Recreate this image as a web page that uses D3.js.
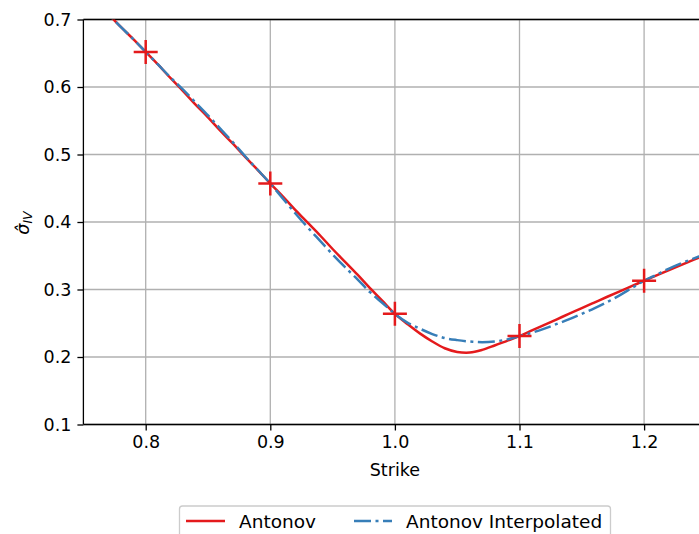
<!DOCTYPE html>
<html>
<head>
<meta charset="utf-8">
<script src="https://cdn.jsdelivr.net/npm/d3@7"></script>
<style>
  html, body { margin: 0; padding: 0; background: #fff; }
  svg { display: block; font-family: "DejaVu Sans", sans-serif; }
</style>
</head>
<body>
<svg id="chart" width="699" height="534"></svg>
<script>
// Strike grid for the smile curves
const strikes = [0.76, 0.77, 0.78, 0.79, 0.80, 0.81, 0.82, 0.83, 0.84, 0.85, 0.86, 0.87, 0.88, 0.89, 0.90,
  0.91, 0.92, 0.93, 0.94, 0.95, 0.96, 0.97, 0.98, 0.99, 1.00, 1.01, 1.02, 1.03, 1.04, 1.05, 1.06, 1.07,
  1.08, 1.09, 1.10, 1.11, 1.12, 1.13, 1.14, 1.15, 1.16, 1.17, 1.18, 1.19, 1.20, 1.21, 1.22, 1.23, 1.24, 1.25];

// Antonov implied volatility
const antonovVol = [0.727, 0.708, 0.689, 0.671, 0.652, 0.633, 0.613, 0.594, 0.574, 0.555, 0.535, 0.516, 0.496, 0.477, 0.457,
  0.438, 0.418, 0.399, 0.380, 0.360, 0.341, 0.322, 0.302, 0.283, 0.264, 0.249, 0.235, 0.223, 0.213, 0.2075, 0.2065, 0.2105,
  0.217, 0.224, 0.231, 0.2393, 0.2476, 0.2559, 0.2642, 0.2725, 0.2807, 0.2889, 0.2970, 0.3050, 0.3130, 0.3210, 0.3288, 0.3365, 0.3442, 0.3518];

// Antonov interpolated implied volatility
const interpVol = [0.727, 0.708, 0.689, 0.671, 0.652, 0.633, 0.614, 0.596, 0.577, 0.558, 0.538, 0.518, 0.497, 0.477, 0.457,
  0.435, 0.413, 0.392, 0.372, 0.352, 0.333, 0.315, 0.296, 0.280, 0.264, 0.251, 0.242, 0.234, 0.228, 0.225, 0.223, 0.222,
  0.223, 0.226, 0.231, 0.236, 0.242, 0.249, 0.256, 0.264, 0.272, 0.281, 0.291, 0.302, 0.313, 0.322, 0.331, 0.339, 0.346, 0.353];

// Quoted market points
const quoteStrikes = [0.8, 0.9, 1.0, 1.1, 1.2];
const quoteVols = [0.652, 0.457, 0.264, 0.231, 0.313];

// Axis ticks
const xTicks = [0.8, 0.9, 1.0, 1.1, 1.2];
const yTicks = [0.1, 0.2, 0.3, 0.4, 0.5, 0.6, 0.7];

const RED = "#e41a1c";
const BLUE = "#377eb8";
const DASHDOT = "17,4.5,3,4.5";

const svg = d3.select("#chart");
const plotLeft = 83.4, plotTop = 19.5, plotBottom = 424.5;
const x = d3.scaleLinear().domain([0.75, 1.25]).range([plotLeft, plotLeft + 1246 * 0.5]);
const y = d3.scaleLinear().domain([0.1, 0.7]).range([plotBottom, plotTop]);
const plotRight = x(1.25);

svg.append("defs").append("clipPath").attr("id", "plotclip")
  .append("rect").attr("x", plotLeft).attr("y", plotTop)
  .attr("width", plotRight - plotLeft).attr("height", plotBottom - plotTop);

// Grid
const grid = svg.append("g").attr("stroke", "#b0b0b0").attr("stroke-width", 1.3);
xTicks.forEach(t => grid.append("line").attr("x1", x(t)).attr("x2", x(t)).attr("y1", plotTop).attr("y2", plotBottom));
yTicks.forEach(t => grid.append("line").attr("x1", plotLeft).attr("x2", plotRight).attr("y1", y(t)).attr("y2", y(t)));

// Axes
const fmt = d3.format(".1f");
const xAxis = svg.append("g").attr("transform", `translate(0,${plotBottom})`)
  .call(d3.axisBottom(x).tickValues(xTicks).tickFormat(fmt).tickSize(6).tickPadding(5));
const yAxis = svg.append("g").attr("transform", `translate(${plotLeft},0)`)
  .call(d3.axisLeft(y).tickValues(yTicks).tickFormat(fmt).tickSize(6).tickPadding(6));
[xAxis, yAxis].forEach(a => {
  a.select(".domain").remove();
  a.selectAll(".tick line").attr("stroke", "#000").attr("stroke-width", 1.3);
  a.selectAll("text").attr("font-size", 17.5).attr("font-family", "DejaVu Sans").attr("fill", "#000");
});

// Spines
const spines = svg.append("g").attr("stroke", "#000").attr("stroke-width", 1.3).attr("fill", "none");
spines.append("line").attr("x1", plotLeft).attr("x2", plotLeft).attr("y1", plotTop).attr("y2", plotBottom);
spines.append("line").attr("x1", plotLeft).attr("x2", plotRight).attr("y1", plotBottom).attr("y2", plotBottom);
spines.append("line").attr("x1", plotLeft).attr("x2", plotRight).attr("y1", plotTop).attr("y2", plotTop);
spines.append("line").attr("x1", plotRight).attr("x2", plotRight).attr("y1", plotTop).attr("y2", plotBottom);

// Curves
const plot = svg.append("g").attr("clip-path", "url(#plotclip)");
const line = d3.line().x(d => x(d[0])).y(d => y(d[1])).curve(d3.curveCatmullRom.alpha(0.5));
plot.append("path").datum(strikes.map((k, i) => [k, antonovVol[i]]))
  .attr("d", line).attr("fill", "none").attr("stroke", RED).attr("stroke-width", 2.5);
plot.append("path").datum(strikes.map((k, i) => [k, interpVol[i]]))
  .attr("d", line).attr("fill", "none").attr("stroke", BLUE).attr("stroke-width", 2.5)
  .attr("stroke-dasharray", DASHDOT);

// Quote markers (+)
const ms = 12;
const marks = plot.append("g").attr("stroke", RED).attr("stroke-width", 2.5);
quoteStrikes.forEach((k, i) => {
  const cx = x(k), cy = y(quoteVols[i]);
  marks.append("line").attr("x1", cx - ms).attr("x2", cx + ms).attr("y1", cy).attr("y2", cy);
  marks.append("line").attr("x1", cx).attr("x2", cx).attr("y1", cy - ms).attr("y2", cy + ms);
});

// Axis labels
svg.append("text").attr("x", x(1.0)).attr("y", 476).attr("text-anchor", "middle")
  .attr("font-size", 17.5).text("Strike");
const yl = svg.append("text").attr("transform", "translate(29,223) rotate(-90)")
  .attr("text-anchor", "middle").attr("font-size", 17.5);
yl.append("tspan").attr("font-style", "italic").text("σ\u0302");
yl.append("tspan").attr("font-style", "italic").attr("font-size", 12.5).attr("dy", 3).text("IV");

// Legend
const lg = svg.append("g");
lg.append("rect").attr("x", 179.5).attr("y", 506).attr("width", 431).attr("height", 50).attr("rx", 3)
  .attr("fill", "#fff").attr("fill-opacity", 0.8).attr("stroke", "#cccccc").attr("stroke-width", 1.3);
lg.append("line").attr("x1", 186).attr("x2", 225).attr("y1", 521).attr("y2", 521)
  .attr("stroke", RED).attr("stroke-width", 2.5);
lg.append("text").attr("x", 239).attr("y", 528).attr("font-size", 18.5).text("Antonov");
lg.append("line").attr("x1", 354).attr("x2", 392).attr("y1", 521).attr("y2", 521)
  .attr("stroke", BLUE).attr("stroke-width", 2.5).attr("stroke-dasharray", DASHDOT);
lg.append("text").attr("x", 406).attr("y", 528).attr("font-size", 18.5).text("Antonov Interpolated");
</script>
</body>
</html>
